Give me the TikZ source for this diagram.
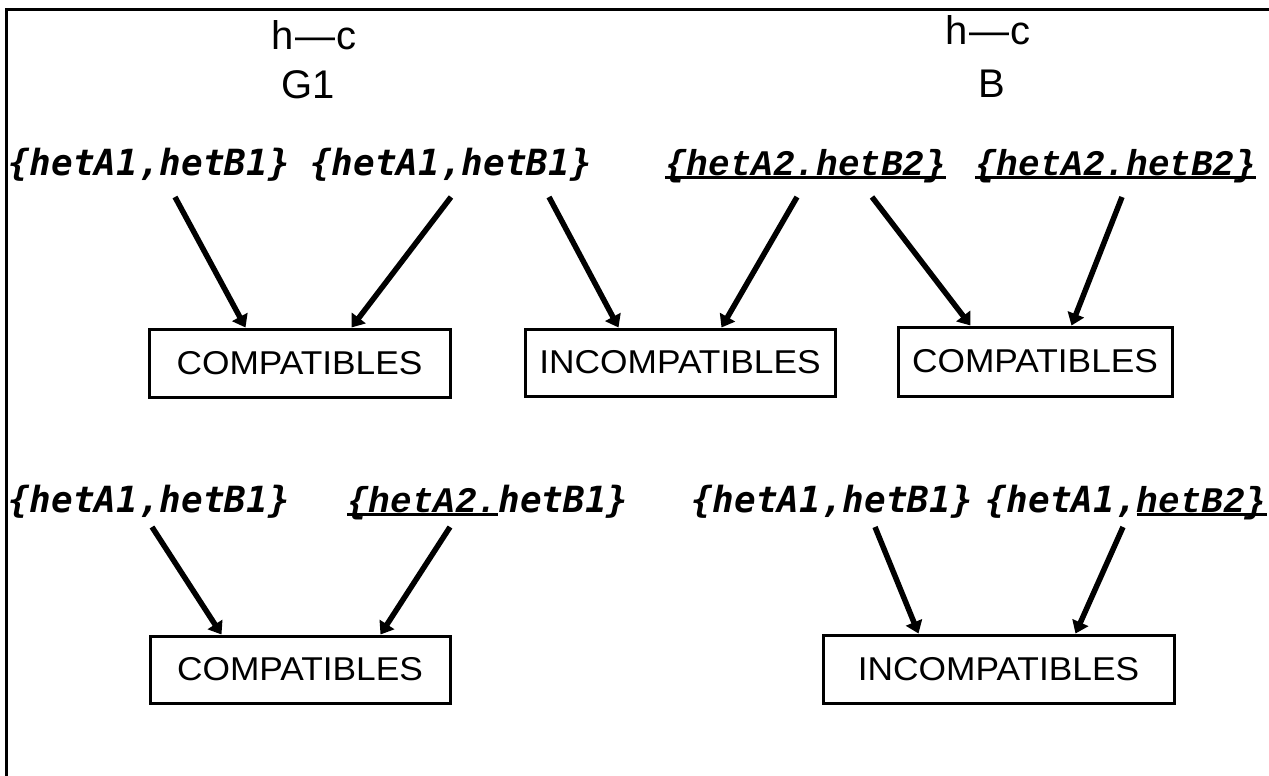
\documentclass[tikz,border=0pt]{standalone}
\usepackage{fontspec}
\setmainfont{Liberation Sans}
\newfontfamily\boxfont[FakeStretch=1.07]{Liberation Sans}
\newfontfamily\sanslbl{DejaVu Sans Mono}
\newfontfamily\seriflbl{Liberation Mono}
\usetikzlibrary{arrows.meta,calc}
\newcommand\ulbl[1]{\setbox0=\hbox{#1}\rlap{\rule[-3.5pt]{\wd0}{2.4pt}}\box0}
\newcommand\sanst[1]{{\sanslbl\bfseries\itshape #1}}
\newcommand\serift[1]{\ulbl{\seriflbl\bfseries\itshape #1}}
\begin{document}
\begin{tikzpicture}[x=1pt,y=-1pt,
  lbl/.style={anchor=base west, inner sep=0pt, font=\fontsize{36}{40}\selectfont},
  hdr/.style={anchor=base, inner sep=0pt, font=\fontsize{40}{44}\selectfont},
  cbox/.style={draw, line width=3pt, inner sep=0pt, font=\boxfont\fontsize{33}{36}\selectfont},
  arr/.style={line width=5.5pt, -{Triangle[length=12pt,width=17pt]}},
  frame/.style={line width=3pt}]
\useasboundingbox (0,0) rectangle (1269,776);
\draw[frame] (1269,10) -- (6,10) -- (6,776);
% headers
\node[hdr] (h1) at (314,49) {h\kern1pt—\kern1pt c};
\node[hdr] (g1) at (308,99) {G1};
\node[hdr] (h2) at (988,45) {h\kern1pt—\kern1pt c};
\node[hdr] (g2) at (992,97) {B};
% row 1 labels
\node[lbl] (l1) at (8,175) {\sanst{\{hetA1,hetB1\}}};
\node[lbl] (l2) at (310,175) {\sanst{\{hetA1,hetB1\}}};
\node[lbl] (l3) at (665,175) {\serift{\{hetA2.hetB2\}}};
\node[lbl] (l4) at (975,175) {\serift{\{hetA2.hetB2\}}};
% row 1 boxes
\node[cbox, minimum width=301pt, minimum height=68pt] (b1) at (299.5,363) {COMPATIBLES};
\node[cbox, minimum width=310pt, minimum height=67pt] (b2) at (680,362.5) {INCOMPATIBLES};
\node[cbox, minimum width=274pt, minimum height=69pt] (b3) at (1035,361.5) {COMPATIBLES};
% row 2 labels
\node[lbl] (l5) at (8,512) {\sanst{\{hetA1,hetB1\}}};
\node[lbl] (l6) at (347,512) {\serift{\{hetA2.}\sanst{hetB1\}}};
\node[lbl] (l7) at (691,512) {\sanst{\{hetA1,hetB1\}}};
\node[lbl] (l8) at (985,512) {\sanst{\{hetA1,}\serift{hetB2\}}};
% row 2 boxes
\node[cbox, minimum width=300pt, minimum height=67pt] (b4) at (300,669.5) {COMPATIBLES};
\node[cbox, minimum width=351pt, minimum height=68pt] (b5) at (998.5,669) {INCOMPATIBLES};
% row 1 arrows
\draw[arr] ($(l1.base west)+(167,22)$) -- ($(b1.north west)+(98,0)$);
\draw[arr] ($(l2.base west)+(141,22)$) -- ($(b1.north west)+(204,0)$);
\draw[arr] ($(l2.base west)+(239,22)$) -- ($(b2.north west)+(95,0)$);
\draw[arr] ($(l3.base west)+(132,22)$) -- ($(b2.north west)+(198,0)$);
\draw[arr] ($(l3.base west)+(207,22)$) -- ($(b3.north west)+(74,0)$);
\draw[arr] ($(l4.base west)+(147,22)$) -- ($(b3.north west)+(175,0)$);
% row 2 arrows
\draw[arr] ($(l5.base west)+(144,15)$) -- ($(b4.north west)+(73,0)$);
\draw[arr] ($(l6.base west)+(103,15)$) -- ($(b4.north west)+(232,0)$);
\draw[arr] ($(l7.base west)+(184,15)$) -- ($(b5.north west)+(97,0)$);
\draw[arr] ($(l8.base west)+(138,15)$) -- ($(b5.north west)+(254,0)$);
\end{tikzpicture}
\end{document}
